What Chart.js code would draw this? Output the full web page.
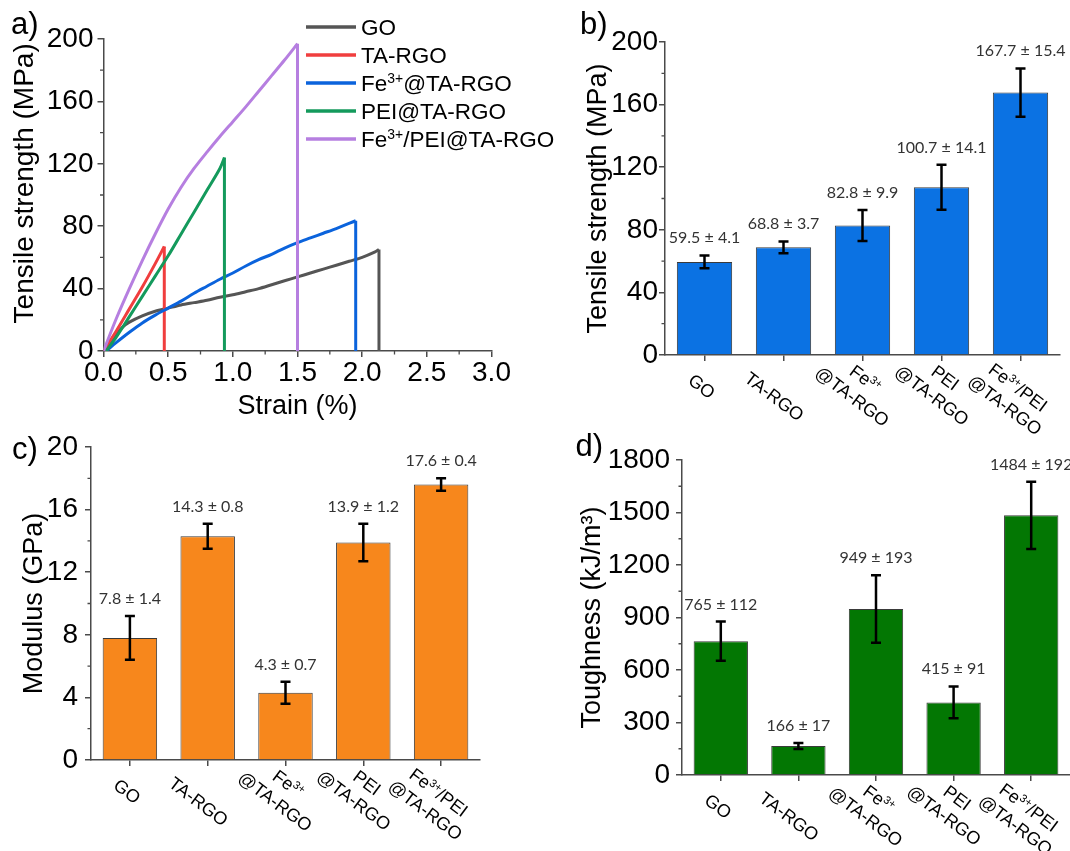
<!DOCTYPE html>
<html>
<head>
<meta charset="utf-8">
<script src="https://cdn.jsdelivr.net/npm/chart.js@4.4.0/dist/chart.umd.min.js"></script>
<style>
  html, body { margin: 0; padding: 0; background: #fff; }
  #wrap { position: relative; width: 1070px; height: 851px; overflow: hidden; }
  canvas { position: absolute; }
</style>
</head>
<body>
<div id="wrap">
  <canvas id="chartA" width="580" height="420" style="left:0;top:0"></canvas>
  <canvas id="chartB" width="530" height="440" style="left:540px;top:0"></canvas>
  <canvas id="chartC" width="540" height="431" style="left:0;top:420px"></canvas>
  <canvas id="chartD" width="530" height="431" style="left:540px;top:420px"></canvas>
</div>
<script>
// ---- data ----

// a) stress-strain curves; the last point of each is the break
const goStrain    = [0, 0.05, 0.1, 0.15, 0.2, 0.3, 0.4, 0.5, 0.6, 0.7, 0.8, 0.9, 1.0, 1.1, 1.2, 1.3, 1.4, 1.5, 1.6, 1.7, 1.8, 1.9, 2.0, 2.1, 2.13, 2.13];
const goStress    = [0, 6, 11, 15.5, 18.5, 22.5, 25.5, 27.5, 29.5, 31, 32.5, 34.5, 36, 38, 40, 42.5, 45, 47.5, 50, 52.5, 55, 57.5, 60, 63.5, 65, 0];
const taStrain    = [0, 0.1, 0.2, 0.3, 0.4, 0.47, 0.47];
const taStress    = [0, 13, 27, 41, 56, 67, 0];
const feStrain    = [0.02, 0.1, 0.2, 0.3, 0.4, 0.5, 0.6, 0.7, 0.8, 0.9, 1.0, 1.1, 1.2, 1.3, 1.4, 1.5, 1.6, 1.7, 1.8, 1.95, 1.95];
const feStress    = [0, 5.5, 12, 18, 23, 27.5, 32, 37, 41.5, 46, 50, 54.5, 58.5, 62, 66, 69.5, 72.5, 75.5, 78.5, 83.5, 0];
const peiStrain   = [0.02, 0.1, 0.2, 0.3, 0.4, 0.5, 0.6, 0.7, 0.8, 0.9, 0.935, 0.935];
const peiStress   = [0, 9, 22, 35, 48, 61, 75, 89, 103, 117, 124, 0];
const fePeiStrain = [0, 0.1, 0.2, 0.3, 0.4, 0.5, 0.6, 0.7, 0.8, 0.9, 1.0, 1.1, 1.2, 1.3, 1.4, 1.5, 1.5];
const fePeiStress = [0, 21, 40, 58, 75, 91, 105, 117, 127.5, 137.5, 147, 156.5, 166.5, 176.5, 186.5, 197, 0];
const curveLabels = ['GO', 'TA-RGO', 'Fe^{3+}@TA-RGO', 'PEI@TA-RGO', 'Fe^{3+}/PEI@TA-RGO'];
const curveColors = ['#555555', '#f03e3e', '#0b63dc', '#149a5c', '#b67fe0'];

// b-d) bar panels
const categories = ['GO', 'TA-RGO', ['Fe^{3+}', '@TA-RGO'], ['PEI', '@TA-RGO'], ['Fe^{3+}/PEI', '@TA-RGO']];
const strength     = [59.5, 68.8, 82.8, 107.2, 167.7];
const strengthErr  = [4.1, 3.8, 9.9, 14.4, 15.4];
const strengthText = ['59.5 ± 4.1', '68.8 ± 3.7', '82.8 ± 9.9', '100.7 ± 14.1', '167.7 ± 15.4'];
const modulus      = [7.8, 14.3, 4.3, 13.9, 17.6];
const modulusErr   = [1.4, 0.8, 0.7, 1.2, 0.4];
const modulusText  = ['7.8 ± 1.4', '14.3 ± 0.8', '4.3 ± 0.7', '13.9 ± 1.2', '17.6 ± 0.4'];
const toughness     = [765, 166, 949, 415, 1484];
const toughnessErr  = [112, 17, 193, 91, 192];
const toughnessText = ['765 ± 112', '166 ± 17', '949 ± 193', '415 ± 91', '1484 ± 192'];

// ---- styling ----
const SANS = "'Liberation Sans', Arial, sans-serif";
const AXIS = '#4a4a4a';
const TICK_SIZE = 28;
Chart.defaults.font.family = SANS;
Chart.defaults.color = '#000';

// text with ^{...} superscripts
function richParts(text) {
  const out = [];
  const re = /\^\{([^}]*)\}/g;
  let last = 0, m;
  while ((m = re.exec(text))) {
    if (m.index > last) out.push({ t: text.slice(last, m.index), sup: false });
    out.push({ t: m[1], sup: true });
    last = re.lastIndex;
  }
  if (last < text.length) out.push({ t: text.slice(last), sup: false });
  return out;
}
function richWidth(ctx, text, size) {
  let w = 0;
  richParts(text).forEach(p => {
    ctx.font = (p.sup ? size * 0.62 : size) + 'px ' + SANS;
    w += ctx.measureText(p.t).width;
  });
  return w;
}
function drawRich(ctx, text, x, y, size, align) {
  const w = richWidth(ctx, text, size);
  let cx = align === 'center' ? x - w / 2 : (align === 'right' ? x - w : x);
  ctx.textAlign = 'left';
  ctx.textBaseline = 'alphabetic';
  richParts(text).forEach(p => {
    ctx.font = (p.sup ? size * 0.62 : size) + 'px ' + SANS;
    ctx.fillText(p.t, cx, y - (p.sup ? size * 0.36 : 0));
    cx += ctx.measureText(p.t).width;
  });
}

// ---- plugins ----
const panelLetter = {
  id: 'panelLetter',
  afterDraw(chart, args, o) {
    const ctx = chart.ctx;
    ctx.save();
    ctx.fillStyle = '#000';
    ctx.font = '31px ' + SANS;
    ctx.textAlign = 'left';
    ctx.textBaseline = 'middle';
    ctx.fillText(o.text, o.x, o.y);
    ctx.restore();
  }
};

const minorTicks = {
  id: 'minorTicks',
  afterDraw(chart, args, o) {
    const ctx = chart.ctx;
    ctx.save();
    ctx.strokeStyle = AXIS;
    ctx.lineWidth = 1.3;
    ctx.beginPath();
    Object.keys(o.steps || {}).forEach(id => {
      const sc = chart.scales[id];
      const step = o.steps[id];
      const n = Math.round((sc.max - sc.min) / step);
      for (let k = 1; k < n; k += 2) {
        const p = sc.getPixelForValue(sc.min + k * step);
        if (sc.isHorizontal()) { ctx.moveTo(p, sc.top); ctx.lineTo(p, sc.top + 3.5); }
        else { ctx.moveTo(sc.right, p); ctx.lineTo(sc.right - 3.5, p); }
      }
    });
    ctx.stroke();
    ctx.restore();
  }
};

const lineLegend = {
  id: 'lineLegend',
  afterDraw(chart, args, o) {
    const ctx = chart.ctx;
    ctx.save();
    chart.data.datasets.filter(ds => ds.inLegend).forEach((ds, i) => {
      const y = o.top + i * o.gap;
      ctx.strokeStyle = ds.borderColor;
      ctx.lineWidth = 3.5;
      ctx.beginPath();
      ctx.moveTo(o.x, y);
      ctx.lineTo(o.x + o.len, y);
      ctx.stroke();
      ctx.fillStyle = '#000';
      drawRich(ctx, ds.label, o.x + o.len + 5, y + o.size * 0.36, o.size, 'left');
    });
    ctx.restore();
  }
};

const catLabels = {
  id: 'catLabels',
  afterDraw(chart, args, o) {
    const ctx = chart.ctx;
    const sc = chart.scales.x;
    const ang = o.angle * Math.PI / 180;
    ctx.save();
    ctx.fillStyle = '#000';
    chart.data.labels.forEach((lab, i) => {
      const lines = Array.isArray(lab) ? lab : [lab];
      const w1 = richWidth(ctx, lines[0], o.size);
      const cx = sc.getPixelForTick(i) + 2 - 0.16 * w1;
      const cy = sc.top + 24 + 0.25 * w1;
      ctx.save();
      ctx.translate(cx, cy);
      ctx.rotate(ang);
      lines.forEach((ln, k) => {
        const off = (k - (lines.length - 1) / 2) * o.lineGap;
        drawRich(ctx, ln, 0, off + o.size * 0.36, o.size, 'center');
      });
      ctx.restore();
    });
    ctx.restore();
  }
};

const errorBars = {
  id: 'errorBars',
  afterDatasetsDraw(chart) {
    const ctx = chart.ctx;
    const ys = chart.scales.y;
    const ds = chart.data.datasets[0];
    ctx.save();
    chart.getDatasetMeta(0).data.forEach((bar, i) => {
      const v = ds.data[i], e = ds.errors[i];
      const yTop = ys.getPixelForValue(v + e);
      const yBot = ys.getPixelForValue(v - e);
      ctx.strokeStyle = '#000';
      ctx.lineWidth = 2.5;
      ctx.beginPath();
      ctx.moveTo(bar.x, yTop); ctx.lineTo(bar.x, yBot);
      ctx.moveTo(bar.x - 5, yTop); ctx.lineTo(bar.x + 5, yTop);
      ctx.moveTo(bar.x - 5, yBot); ctx.lineTo(bar.x + 5, yBot);
      ctx.stroke();
      ctx.fillStyle = '#333';
      ctx.font = '16px Lato';
      ctx.textAlign = 'center';
      ctx.textBaseline = 'alphabetic';
      ctx.fillText(ds.valueLabels[i], bar.x, yTop - 12);
    });
    ctx.restore();
  }
};

function axisGrid() {
  return { display: true, drawOnChartArea: false, color: AXIS, lineWidth: 1.5, tickLength: 6, tickWidth: 1.5 };
}

// ---- a) curves ----
const strains  = [goStrain, taStrain, feStrain, peiStrain, fePeiStrain];
const stresses = [goStress, taStress, feStress, peiStress, fePeiStress];

// each sample: a smooth loading curve plus a straight vertical break segment
const curveSets = [];
curveLabels.forEach((label, i) => {
  const pts = strains[i].map((x, k) => ({ x, y: stresses[i][k] }));
  const common = { borderColor: curveColors[i], borderWidth: 3, pointRadius: 0, fill: false, order: curveLabels.length - i };
  curveSets.push(Object.assign({ label, data: pts.slice(0, -1), tension: 0.3, inLegend: true }, common));
  curveSets.push(Object.assign({ label: label + ' break', data: pts.slice(-2), tension: 0, inLegend: false }, common));
});

new Chart(document.getElementById('chartA'), {
  type: 'line',
  data: { datasets: curveSets },
  options: {
    responsive: false, animation: false, devicePixelRatio: 1, events: [],
    layout: { padding: { left: 0, top: 39, right: 88.5, bottom: 0 } },
    plugins: {
      legend: { display: false }, tooltip: { enabled: false },
      panelLetter: { text: 'a)', x: 11, y: 25 },
      minorTicks: { steps: { x: 0.25, y: 20 } },
      lineLegend: { x: 306, top: 27, gap: 28, len: 50, size: 22.5 }
    },
    scales: {
      x: {
        type: 'linear', min: 0, max: 3,
        ticks: { stepSize: 0.5, padding: 2, font: { size: TICK_SIZE, lineHeight: 1 }, color: '#000', callback: v => v.toFixed(1) },
        grid: axisGrid(), border: { color: AXIS, width: 1.5 },
        title: { display: true, text: 'Strain (%)', font: { size: 27, lineHeight: 1 }, padding: { top: 0, bottom: 0 } },
        afterFit: s => { s.height = 69; }
      },
      y: {
        min: 0, max: 200,
        ticks: { stepSize: 40, padding: 4, font: { size: TICK_SIZE, lineHeight: 1 }, color: '#000' },
        grid: axisGrid(), border: { color: AXIS, width: 1.5 },
        title: { display: true, text: '   Tensile strength (MPa)', font: { size: 28, lineHeight: 1 }, padding: { top: 11, bottom: 0 } },
        afterFit: s => { s.width = 103.5; }
      }
    }
  },
  plugins: [minorTicks, lineLegend, panelLetter]
});

// ---- b-d) bars ----
function barChart(id, c) {
  return new Chart(document.getElementById(id), {
    type: 'bar',
    data: {
      labels: categories,
      datasets: [{
        data: c.values, errors: c.errors, valueLabels: c.texts,
        backgroundColor: c.color, borderColor: '#3a3a3a', borderWidth: 1,
        barPercentage: 0.7, categoryPercentage: 1
      }]
    },
    options: {
      responsive: false, animation: false, devicePixelRatio: 1, events: [],
      layout: { padding: c.padding },
      plugins: {
        legend: { display: false }, tooltip: { enabled: false },
        panelLetter: c.letter,
        minorTicks: { steps: { y: c.step / 2 } },
        catLabels: { angle: 37, size: 18, lineGap: 22 }
      },
      scales: {
        x: {
          ticks: { display: false },
          grid: Object.assign(axisGrid(), { offset: false }),
          border: { color: AXIS, width: 1.5 },
          afterFit: s => { s.height = c.xHeight; }
        },
        y: {
          min: 0, max: c.max,
          ticks: { stepSize: c.step, padding: c.tickPad, font: { size: TICK_SIZE, lineHeight: 1 }, color: '#000', callback: v => String(v) },
          grid: axisGrid(), border: { color: AXIS, width: 1.5 },
          title: { display: true, text: c.title, font: { size: 27, lineHeight: 1 }, padding: { top: c.titlePad, bottom: 0 } },
          afterFit: s => { s.width = c.yWidth; }
        }
      }
    },
    plugins: [errorBars, minorTicks, catLabels, panelLetter]
  });
}

barChart('chartB', {
  values: strength, errors: strengthErr, texts: strengthText, color: '#0b72e3',
  max: 200, step: 40, title: 'Tensile strength (MPa)', titlePad: 45, tickPad: 1,
  padding: { left: 0, top: 42, right: 10, bottom: 0 }, yWidth: 125, xHeight: 85,
  letter: { text: 'b)', x: 40, y: 25 }
});

barChart('chartC', {
  values: modulus, errors: modulusErr, texts: modulusText, color: '#f7871c',
  max: 20, step: 4, title: 'Modulus (GPa)', titlePad: 21, tickPad: 7,
  padding: { left: 0, top: 27, right: 60, bottom: 0 }, yWidth: 91, xHeight: 91,
  letter: { text: 'c)', x: 12, y: 30 }
});

barChart('chartD', {
  values: toughness, errors: toughnessErr, texts: toughnessText, color: '#037703',
  max: 1800, step: 300, title: 'Toughness (kJ/m³)', titlePad: 39.5, tickPad: 6,
  padding: { left: 0, top: 40, right: 0, bottom: 0 }, yWidth: 142, xHeight: 76,
  letter: { text: 'd)', x: 35.5, y: 27.5 }
});
</script>
</body>
</html>
